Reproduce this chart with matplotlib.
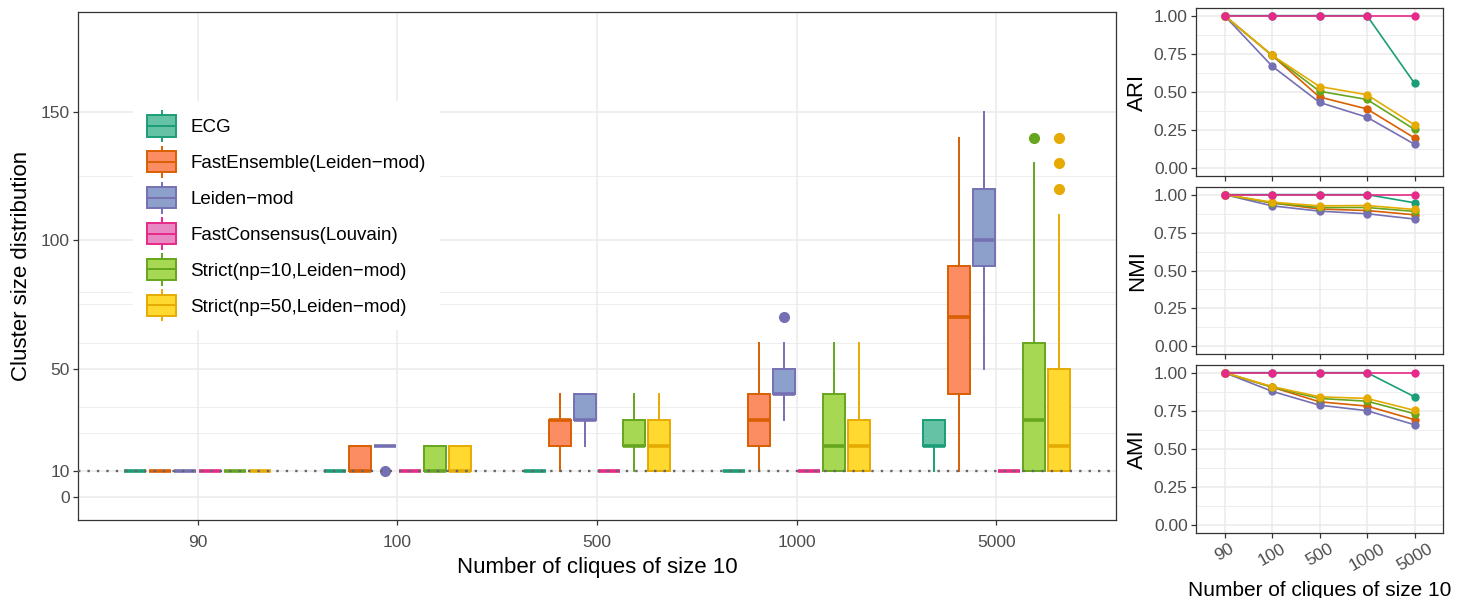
import matplotlib
import matplotlib.pyplot as plt
from matplotlib.legend_handler import HandlerBase
from matplotlib.lines import Line2D
from matplotlib.patches import Patch, Rectangle

matplotlib.use("agg")
plt.rcParams["font.family"] = ["Liberation Sans", "DejaVu Sans"]

cliques = ["90", "100", "500", "1000", "5000"]
methods = [
    "ECG",
    "FastEnsemble(Leiden\u2212mod)",
    "Leiden\u2212mod",
    "FastConsensus(Louvain)",
    "Strict(np=10,Leiden\u2212mod)",
    "Strict(np=50,Leiden\u2212mod)",
]
edge_colors = ["#1B9E77", "#D95F02", "#7570B3", "#E7298A", "#66A61E", "#E6AB02"]
fill_colors = ["#66C2A5", "#FC8D62", "#8DA0CB", "#E78AC3", "#A6D854", "#FFD92F"]

# box statistics, one row per method, one column per clique count
box_q1 = [
    [10, 10, 10, 10, 20],
    [10, 10, 20, 20, 40],
    [10, 20, 30, 40, 90],
    [10, 10, 10, 10, 10],
    [10, 10, 20, 10, 10],
    [10, 10, 10, 10, 10],
]
box_med = [
    [10, 10, 10, 10, 20],
    [10, 10, 30, 30, 70],
    [10, 20, 30, 40, 100],
    [10, 10, 10, 10, 10],
    [10, 10, 20, 20, 30],
    [10, 10, 20, 20, 20],
]
box_q3 = [
    [10, 10, 10, 10, 30],
    [10, 20, 30, 40, 90],
    [10, 20, 40, 50, 120],
    [10, 10, 10, 10, 10],
    [10, 20, 30, 40, 60],
    [10, 20, 30, 30, 50],
]
whisker_lo = [
    [10, 10, 10, 10, 10],
    [10, 10, 10, 10, 10],
    [10, 20, 20, 30, 50],
    [10, 10, 10, 10, 10],
    [10, 10, 10, 10, 10],
    [10, 10, 10, 10, 10],
]
whisker_hi = [
    [10, 10, 10, 10, 30],
    [10, 20, 40, 60, 140],
    [10, 20, 40, 60, 150],
    [10, 10, 10, 10, 10],
    [10, 20, 40, 60, 130],
    [10, 20, 40, 60, 110],
]
outliers = [
    [[], [], [], [], []],
    [[], [], [], [], []],
    [[], [10], [], [70], []],
    [[], [], [], [], []],
    [[], [], [], [], [140]],
    [[], [], [], [], [120, 130, 140]],
]

# accuracy scores, same row order as methods
ari = [
    [1.0, 1.0, 1.0, 1.0, 0.557],
    [1.0, 0.74, 0.467, 0.389, 0.199],
    [1.0, 0.67, 0.432, 0.335, 0.158],
    [1.0, 1.0, 1.0, 1.0, 1.0],
    [1.0, 0.74, 0.505, 0.451, 0.255],
    [1.0, 0.741, 0.536, 0.482, 0.285],
]
nmi = [
    [1.0, 1.0, 1.0, 1.0, 0.946],
    [1.0, 0.945, 0.905, 0.895, 0.867],
    [1.0, 0.926, 0.891, 0.874, 0.839],
    [1.0, 1.0, 1.0, 1.0, 1.0],
    [1.0, 0.945, 0.915, 0.915, 0.889],
    [1.0, 0.95, 0.926, 0.928, 0.902],
]
ami = [
    [1.0, 1.0, 1.0, 1.0, 0.842],
    [1.0, 0.905, 0.809, 0.781, 0.692],
    [1.0, 0.878, 0.787, 0.751, 0.659],
    [1.0, 1.0, 1.0, 1.0, 1.0],
    [1.0, 0.905, 0.831, 0.813, 0.731],
    [1.0, 0.909, 0.842, 0.831, 0.753],
]

GRID = "#EBEBEB"
BORDER = "#333333"
TICKTEXT = "#4D4D4D"
W, H = 1466, 598


def px_rect(left, top, right, bottom):
    return [left / W, 1 - bottom / H, (right - left) / W, (bottom - top) / H]


class BoxKey(HandlerBase):
    def create_artists(self, legend, orig_handle, xdescent, ydescent,
                       width, height, fontsize, trans):
        face = orig_handle.get_facecolor()
        edge = orig_handle.get_edgecolor()
        x0, y0 = -xdescent, -ydescent
        cx = x0 + width / 2
        ext = 0.22 * height
        artists = [
            Line2D([cx, cx], [y0 + height, y0 + height + ext], color=edge, lw=1.4),
            Line2D([cx, cx], [y0 - ext, y0], color=edge, lw=1.4),
            Rectangle((x0, y0), width, height, facecolor=face, edgecolor=edge, lw=1.4),
            Line2D([x0, x0 + width], [y0 + height / 2] * 2, color=edge, lw=1.4),
        ]
        for a in artists:
            a.set_transform(trans)
        return artists


def style_axes(ax):
    for s in ax.spines.values():
        s.set_color(BORDER)
        s.set_linewidth(0.9)
    ax.tick_params(which="major", length=3.5, width=0.9, color=BORDER,
                   labelcolor=TICKTEXT, pad=2.5)
    ax.tick_params(which="minor", length=0)
    ax.grid(which="major", color=GRID, lw=1.1)
    ax.grid(which="minor", color=GRID, lw=0.6)
    ax.set_axisbelow(True)


fig = plt.figure(figsize=(W / 100, H / 100), dpi=100)

# main boxplot panel
ax = fig.add_axes(px_rect(78, 12, 1116, 520))
positions = list(range(1, len(cliques) + 1))
offsets = [-0.3125, -0.1875, -0.0625, 0.0625, 0.1875, 0.3125]
for i in range(len(methods)):
    stats = [
        dict(med=box_med[i][j], q1=box_q1[i][j], q3=box_q3[i][j],
             whislo=whisker_lo[i][j], whishi=whisker_hi[i][j], fliers=outliers[i][j])
        for j in range(len(cliques))
    ]
    ax.bxp(
        stats,
        positions=[p + offsets[i] for p in positions],
        widths=0.11,
        patch_artist=True,
        showcaps=False,
        manage_ticks=False,
        boxprops=dict(facecolor=fill_colors[i], edgecolor=edge_colors[i], linewidth=1.4),
        medianprops=dict(color=edge_colors[i], linewidth=2.6, solid_capstyle="butt"),
        whiskerprops=dict(color=edge_colors[i], linewidth=1.4),
        flierprops=dict(marker="o", markerfacecolor=edge_colors[i],
                        markeredgecolor=edge_colors[i], markersize=7, linestyle="none"),
        zorder=3,
    )
ax.axhline(10, color="#666666", lw=1.7, ls=(0, (1, 3)), zorder=4)
ax.set_xlim(0.4, 5.6)
ax.set_ylim(-9, 189)
ax.set_xticks(positions)
ax.set_xticklabels(cliques, fontsize=12.5)
ax.set_yticks([0, 10, 50, 100, 150])
ax.set_yticks([25, 35, 60, 75, 80, 125], minor=True)
ax.tick_params(axis="y", labelsize=12.5)
style_axes(ax)
ax.tick_params(axis="x", which="major", pad=7.5)
ax.set_xlabel("Number of cliques of size 10", fontsize=16, labelpad=5)
ax.set_ylabel("Cluster size distribution", fontsize=16, labelpad=6)

handles = [Patch(facecolor=f, edgecolor=e) for f, e in zip(fill_colors, edge_colors)]
leg = ax.legend(
    handles, methods,
    handler_map={Patch: BoxKey()},
    loc="upper left", bbox_to_anchor=(0.053, 0.824), borderaxespad=0,
    fontsize=13.5, frameon=True, fancybox=False, framealpha=1,
    edgecolor="none", facecolor="white",
    handlelength=1.55, handleheight=1.35, handletextpad=0.75,
    labelspacing=0.79, borderpad=0.75,
)
leg.set_zorder(5)

# accuracy panels
panels = [
    ("ARI", ari, (8, 176)),
    ("NMI", nmi, (187, 354)),
    ("AMI", ami, (365, 533)),
]
draw_order = [0, 1, 2, 4, 5, 3]
for k, (name, values, (top, bottom)) in enumerate(panels):
    rax = fig.add_axes(px_rect(1196, top, 1443, bottom))
    for i in draw_order:
        rax.plot(positions, values[i], color=edge_colors[i], lw=1.2, zorder=2)
    for i in draw_order:
        rax.plot(positions, values[i], color=edge_colors[i], lw=0, marker="o",
                 markersize=5, zorder=3)
    rax.set_xlim(0.4, 5.6)
    rax.set_ylim(-0.05, 1.05)
    rax.set_xticks(positions)
    rax.set_yticks([0, 0.25, 0.5, 0.75, 1.0])
    rax.set_yticklabels(["0.00", "0.25", "0.50", "0.75", "1.00"], fontsize=12.5)
    rax.set_yticks([0.125, 0.375, 0.625, 0.875], minor=True)
    style_axes(rax)
    rax.set_ylabel(name, fontsize=16, labelpad=4)
    if k < len(panels) - 1:
        rax.set_xticklabels([])
    else:
        rax.set_xticklabels(cliques, fontsize=12.5, rotation=30, ha="center")
        rax.set_xlabel("Number of cliques of size 10", fontsize=15, labelpad=5.5)

fig.savefig("out.png", dpi=100)
plt.close(fig)
